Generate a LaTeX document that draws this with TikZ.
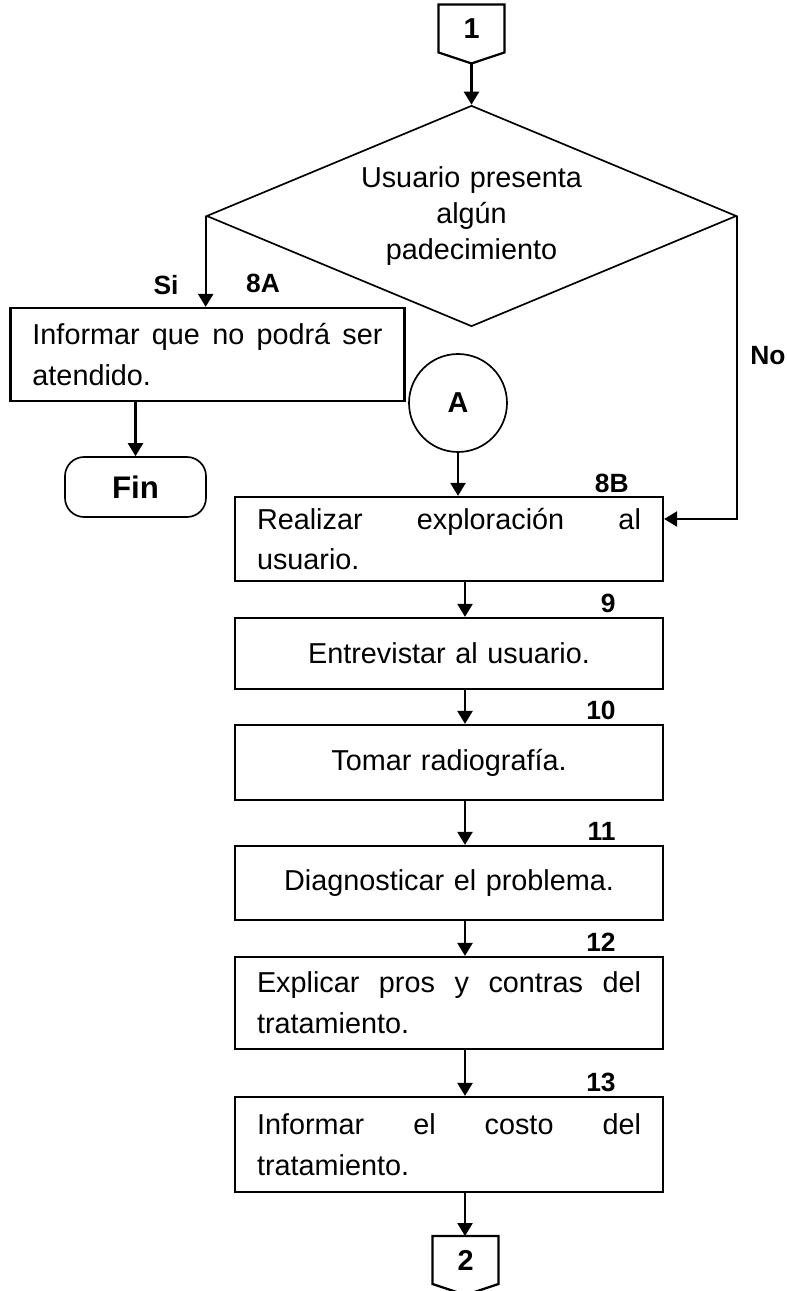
\documentclass[tikz,border=0pt]{standalone}
\usepackage{fontspec}
\setmainfont{Liberation Sans}
\usetikzlibrary{shapes.geometric,arrows.meta,positioning}

\begin{document}
\begin{tikzpicture}[x=0.14644mm,y=-0.14644mm,
      font=\fontsize{12}{17}\selectfont,
      arr/.style={line width=0.95pt,-{Triangle[length=1.9mm,width=2.2mm]}},
      proc/.style={draw,line width=0.95pt,inner xsep=0.322cm,inner ysep=0pt,text width=5.623cm},
      offpage/.style={minimum width=0.952cm,minimum height=0.688cm,inner sep=0pt,
        font=\bfseries\fontsize{12}{14}\selectfont},
      lbl/.style={font=\bfseries\fontsize{11}{13}\selectfont,inner sep=0pt},
      stepnum/.style={lbl,anchor=south east}]
  \useasboundingbox (0,0) rectangle (787,1291);

  % connector 1 and decision
  \node[offpage] (c1) at (471.5,28.5) {1};
  \coordinate (c1tip) at ([shift={(0,11)}]c1.south);
  \draw[line width=0.95pt] (c1.north west) -- (c1.north east) -- (c1.south east)
    -- (c1tip) -- (c1.south west) -- cycle;
  \node[draw,diamond,shape aspect=2.4,line width=0.7pt,minimum width=7.761cm,
    minimum height=3.236cm,inner sep=0pt,text width=3.4cm,align=center,
    font=\fontsize{12}{15}\selectfont] (dec) at (471.5,216)
    {Usuario presenta\\algún\\padecimiento};

  % Si branch
  \node[proc,text width=5.126cm,align=justify,minimum height=1.362cm] (b8A)
    at (207.5,354.5) {Informar que no podrá ser\linebreak atendido.};
  \node[draw,line width=0.7pt,rounded corners=0.28cm,minimum width=2.065cm,
    minimum height=0.879cm,font=\bfseries\fontsize{13}{15}\selectfont] (fin)
    at (135.5,487) {Fin};

  % connector A
  \node[draw,circle,line width=0.7pt,minimum size=1.435cm,inner sep=0pt,
    font=\bfseries\fontsize{12}{14}\selectfont] (A) at (458,403) {A};

  % main column
  \node[proc,align=justify,minimum height=1.230cm] (b8B) at (449,539)
    {Realizar exploración al\linebreak usuario.};
  \node[proc,align=center,minimum height=1.040cm] (b9) at (449,653.5)
    {Entrevistar al usuario.};
  \node[proc,align=center,minimum height=1.098cm] (b10) at (449,762.5)
    {Tomar radiografía.};
  \node[proc,align=center,minimum height=1.084cm] (b11) at (449,883)
    {Diagnosticar el problema.};
  \node[proc,align=justify,minimum height=1.347cm] (b12) at (449,1003)
    {Explicar pros y contras del\linebreak tratamiento.};
  \node[proc,align=justify,minimum height=1.391cm] (b13) at (449,1144.5)
    {Informar el costo del\linebreak tratamiento.};

  % connector 2
  \node[offpage] (c2) at (465.5,1260) {2};
  \coordinate (c2tip) at ([shift={(0,11)}]c2.south);
  \draw[line width=0.95pt] (c2.north west) -- (c2.north east) -- (c2.south east)
    -- (c2tip) -- (c2.south west) -- cycle;

  % arrows
  \draw[arr] (c1tip) -- (dec.north);
  \draw[arr] (dec.west) -- (dec.west |- b8A.north);
  \draw[arr] (b8A.south -| fin.north) -- (fin.north);
  \coordinate (noin) at ([shift={(0,-20)}]b8B.east);
  \draw[arr] (dec.east) |- (noin);
  \draw[arr] (A.south) -- (A.south |- b8B.north);
  \coordinate (col) at (465,0);
  \foreach \a/\b in {b8B/b9,b9/b10,b10/b11,b11/b12,b12/b13,b13/c2}
    \draw[arr] (\a.south -| col) -- (\b.north -| col);

  % labels
  \path (166,285) node[lbl] {Si};
  \path (263,283) node[lbl] {8A};
  \path (768,356) node[lbl] {No};
  \path ([shift={(-35,-3)}]b8B.north east) node[stepnum] {8B};
  \path ([shift={(-48,-4)}]b9.north east) node[stepnum] {9};
  \path ([shift={(-48,-4)}]b10.north east) node[stepnum] {10};
  \path ([shift={(-48,-4)}]b11.north east) node[stepnum] {11};
  \path ([shift={(-48,-4)}]b12.north east) node[stepnum] {12};
  \path ([shift={(-48,-4)}]b13.north east) node[stepnum] {13};
\end{tikzpicture}
\end{document}
